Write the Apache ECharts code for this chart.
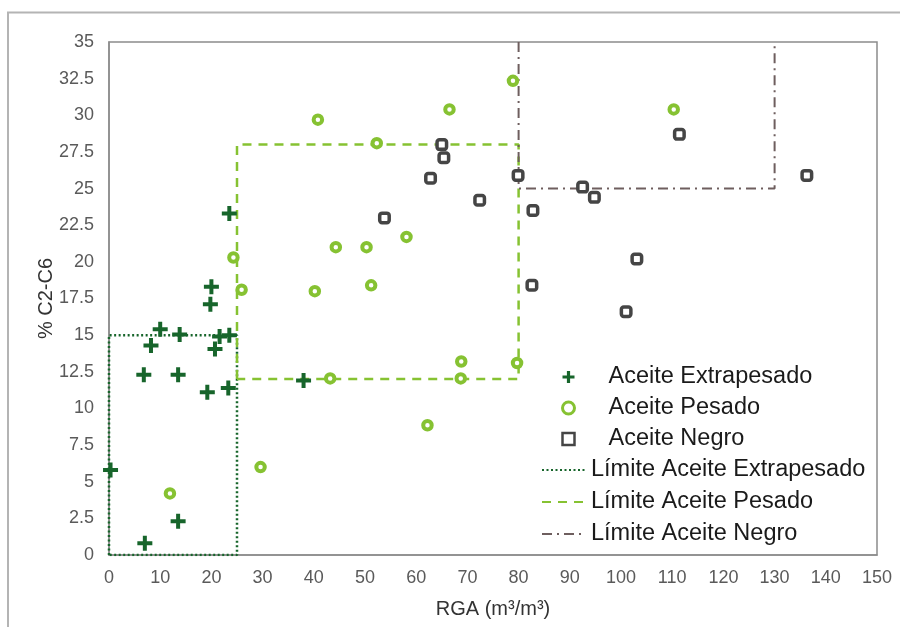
<!DOCTYPE html>
<html><head><meta charset="utf-8">
<script src="https://cdn.jsdelivr.net/npm/echarts@6/dist/echarts.min.js"></script>
<style>html,body{margin:0;padding:0;background:#fff}#c{width:900px;height:627px}</style>
</head><body><div id="c"></div>
<script>
const xTitle = 'RGA (m³/m³)';
const yTitle = '% C2-C6';
const extrapesado = [[0.3,5.8],[7,0.8],[13.5,2.3],[6.8,12.3],[13.5,12.3],[19.2,11.1],[23.3,11.4],[8.2,14.3],[10,15.4],[13.8,15.05],[20.7,14.05],[21.6,14.9],[23.5,15],[19.8,17.1],[20,18.3],[23.5,23.3],[38,11.9]];
const pesado = [[11.9,4.2],[29.6,6.0],[24.3,20.3],[25.9,18.1],[40.2,18.0],[43.2,12.05],[44.3,21.0],[50.3,21.0],[51.2,18.4],[58.1,21.7],[40.8,29.7],[52.3,28.1],[66.5,30.4],[78.9,32.35],[68.8,13.2],[68.7,12.05],[79.7,13.1],[62.2,8.85],[110.3,30.4]];
const negro = [[53.8,23.0],[62.8,25.7],[65.0,28.0],[65.4,27.1],[72.4,24.2],[79.9,25.9],[82.8,23.5],[82.6,18.4],[92.5,25.1],[94.8,24.4],[101.0,16.6],[103.1,20.2],[111.4,28.7],[136.3,25.9]];
const limExtra = [[0,0],[0,15],[25,15],[25,0],[0,0]];
const limPesado = [[25,12],[25,28],[80,28],[80,12],[25,12]];
const limNegro = [[80,35],[80,25],[130,25],[130,35]];
const names = ['Aceite Extrapesado','Aceite Pesado','Aceite Negro','Límite Aceite Extrapesado','Límite Aceite Pesado','Límite Aceite Negro'];

const cDark = '#17652b', cLight = '#86c232', cGray = '#454545', cBrown = '#6e5e5e';
const plusPath = 'path://M5.5,0h4v5.5h5.5v4h-5.5v5.5h-4v-5.5h-5.5v-4h5.5z';
const squarePath = 'path://M0,0h10v10h-10z';
const font = 'Liberation Sans, Arial, sans-serif';
const narrow = 'Liberation Sans Narrow, Arial Narrow, Liberation Sans, sans-serif';

const chart = echarts.init(document.getElementById('c'));
chart.setOption({
  animation: false,
  backgroundColor: '#fff',
  graphic: [
    {type:'polyline', shape:{points:[[8,627],[8,12.5],[900,12.5]]}, style:{stroke:'#b4b4b4', lineWidth:2, fill:null}},
    {type:'rect', shape:{x:535,y:358,width:340,height:196}, style:{fill:'#fff'}, z:50}
  ],
  grid: {left:109, right:23, top:42, bottom:72, show:true, borderColor:'#8c8c8c', borderWidth:1.5},
  xAxis: {
    type:'value', min:0, max:150, interval:10,
    name:xTitle, nameLocation:'middle', nameGap:44,
    nameTextStyle:{fontFamily:narrow, fontSize:20, color:'#333'},
    axisLine:{show:true, lineStyle:{color:'#8c8c8c', width:1.5}},
    axisTick:{show:false}, splitLine:{show:false},
    axisLabel:{fontFamily:narrow, fontSize:18, color:'#5a5a5a', margin:14}
  },
  yAxis: {
    type:'value', min:0, max:35, interval:2.5,
    name:yTitle, nameLocation:'middle', nameGap:53, nameMoveOverlap:false,
    nameTextStyle:{fontFamily:narrow, fontSize:20, color:'#333'},
    axisLine:{show:true, lineStyle:{color:'#8c8c8c', width:1.5}},
    axisTick:{show:false}, splitLine:{show:false},
    axisLabel:{fontFamily:narrow, fontSize:18, color:'#5a5a5a', margin:15}
  },
  legend: [{
    left:556, top:360, orient:'vertical', itemGap:7, itemWidth:70, itemHeight:12,
    textStyle:{fontFamily:font, fontSize:23.5, color:'#1a1a1a'}, z:60,
    data:[
      {name:names[0], icon:plusPath, itemStyle:{color:cDark, borderWidth:0, opacity:1}},
      {name:names[1], icon:'circle', itemStyle:{color:'#fff', borderColor:cLight, borderWidth:3, opacity:1}},
      {name:names[2], icon:squarePath, itemStyle:{color:'#fff', borderColor:cGray, borderWidth:2.5, opacity:1}}
    ]
  },{
    left:536, top:453, orient:'vertical', itemGap:8, itemWidth:44, itemHeight:24,
    textStyle:{fontFamily:font, fontSize:23.5, color:'#1a1a1a'}, z:60,
    data:[names[3], names[4], names[5]]
  }],
  series: [
    {name:names[3], type:'line', data:limExtra, symbol:'none', itemStyle:{color:'rgba(0,0,0,0)'}, lineStyle:{color:cDark, width:2.5, type:[2,2.5]}, z:2},
    {name:names[4], type:'line', data:limPesado, symbol:'none', itemStyle:{color:'rgba(0,0,0,0)'}, lineStyle:{color:cLight, width:2.5, type:[9,7]}, z:2},
    {name:names[5], type:'line', data:limNegro, symbol:'none', itemStyle:{color:'rgba(0,0,0,0)'}, lineStyle:{color:cBrown, width:2, type:[10,5,2,5]}, z:2},
    {name:names[0], type:'scatter', data:extrapesado, symbol:plusPath, symbolSize:15, itemStyle:{color:cDark, opacity:1}, z:5},
    {name:names[1], type:'scatter', data:pesado, symbol:'circle', symbolSize:8.5, itemStyle:{color:'#fff', borderColor:cLight, borderWidth:4, opacity:1}, z:4},
    {name:names[2], type:'scatter', data:negro, symbol:'roundRect', symbolSize:9.5, itemStyle:{color:'#fff', borderColor:cGray, borderWidth:3.5, opacity:1}, z:4}
  ]
});
</script></body></html>
